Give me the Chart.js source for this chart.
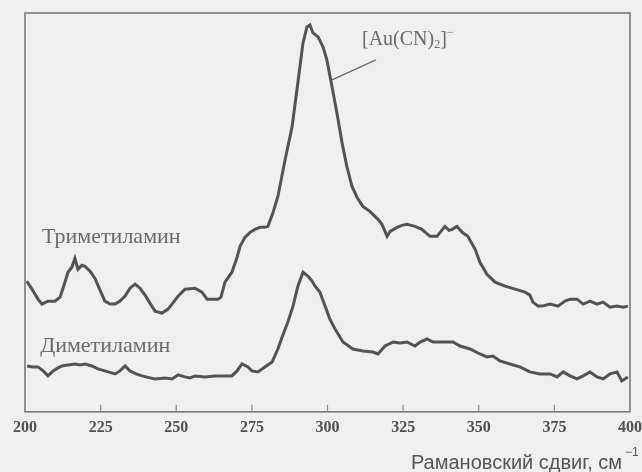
<!DOCTYPE html>
<html>
<head>
<meta charset="utf-8">
<style>
  html, body { margin: 0; padding: 0; background: #efefef; }
  #wrap { width: 642px; height: 472px; position: relative; }
</style>
<script src="https://cdn.jsdelivr.net/npm/chart.js@4.4.1/dist/chart.umd.min.js"></script>
</head>
<body>
<div id="wrap"><canvas id="c" width="642" height="472"></canvas></div>
<script>
// Raman shift axis (cm^-1)
const xMin = 200, xMax = 400, xStep = 25;

// Trimethylamine spectrum: Raman shift and relative intensity
const shiftTri = [200.6, 202.3, 204.3, 205.6, 207.6, 209.9, 211.6, 213.2, 214.2, 215.5, 216.5, 217.5, 218.8, 219.8, 221.5, 223.1, 224.8, 226.4, 228.1, 229.8, 231.4, 233.1, 234.7, 236.4, 238.0, 239.7, 241.3, 243.0, 245.3, 247.3, 248.6, 250.6, 252.9, 256.2, 258.5, 260.2, 261.8, 263.8, 264.8, 266.1, 268.4, 270.1, 271.1, 272.7, 274.4, 276.0, 277.7, 279.3, 280.3, 282.0, 283.6, 286.0, 288.3, 290.2, 291.9, 293.2, 294.2, 295.2, 296.9, 298.5, 299.8, 301.5, 303.1, 304.8, 306.4, 308.1, 309.8, 311.7, 314.0, 315.0, 316.7, 318.0, 319.7, 320.7, 323.0, 324.6, 326.3, 328.9, 331.2, 333.9, 336.2, 338.8, 340.2, 341.2, 342.8, 344.5, 346.4, 348.8, 350.4, 352.7, 355.4, 358.7, 362.0, 365.3, 366.9, 367.9, 369.6, 370.9, 373.6, 376.2, 378.5, 380.2, 382.5, 384.5, 386.8, 389.1, 391.1, 393.4, 395.7, 397.7, 399.3];
const intTri = [32.75, 30.75, 28.25, 27.0, 27.75, 27.75, 28.75, 32.5, 35.0, 36.25, 38.5, 35.75, 36.75, 36.5, 35.25, 33.5, 30.5, 27.75, 27.0, 27.0, 27.75, 29.0, 31.0, 32.0, 31.0, 29.25, 27.25, 25.25, 24.75, 25.75, 27.0, 29.0, 30.75, 31.0, 30.0, 28.25, 28.25, 28.25, 28.75, 32.5, 35.0, 38.75, 41.5, 43.75, 45.0, 45.75, 46.25, 46.25, 46.5, 50.0, 54.0, 63.25, 71.5, 82.5, 92.5, 96.5, 97.0, 95.0, 94.0, 91.5, 88.25, 81.5, 75.0, 67.5, 61.5, 56.5, 53.75, 51.5, 50.25, 49.5, 48.25, 47.0, 44.0, 45.25, 46.25, 46.75, 47.0, 46.5, 45.75, 44.0, 44.0, 46.5, 45.5, 45.75, 46.5, 45.0, 44.0, 40.75, 37.5, 34.5, 32.5, 31.5, 30.75, 30.0, 29.25, 27.5, 26.5, 26.5, 27.0, 26.5, 27.75, 28.25, 28.25, 27.0, 27.75, 27.0, 27.5, 26.25, 26.5, 26.25, 26.5];

// Dimethylamine spectrum: Raman shift and relative intensity
const shiftDi = [200.7, 202.6, 204.3, 206.0, 207.6, 209.3, 210.9, 212.2, 214.2, 216.5, 218.2, 219.8, 222.1, 224.1, 226.4, 229.8, 231.4, 233.1, 234.7, 236.7, 238.7, 241.3, 243.0, 246.3, 248.6, 250.6, 252.9, 254.5, 256.2, 259.5, 262.8, 266.1, 268.4, 270.1, 271.7, 273.7, 275.0, 277.0, 279.3, 281.7, 283.6, 285.0, 286.9, 288.6, 290.2, 291.9, 293.6, 294.9, 295.9, 297.5, 299.2, 300.8, 302.5, 305.1, 308.4, 311.7, 315.0, 316.7, 319.0, 321.7, 324.0, 326.3, 328.9, 330.6, 332.9, 334.9, 337.2, 341.5, 343.8, 347.1, 350.4, 352.7, 354.7, 357.0, 360.3, 363.6, 366.9, 370.2, 373.6, 375.9, 377.9, 380.2, 382.5, 384.5, 386.8, 389.1, 391.1, 393.4, 395.7, 397.3, 399.3];
const intDi = [11.5, 11.25, 11.25, 10.25, 9.0, 10.25, 11.0, 11.5, 11.75, 12.0, 11.75, 12.0, 11.5, 10.75, 10.25, 9.5, 10.25, 11.5, 10.25, 9.5, 9.0, 8.5, 8.25, 8.5, 8.25, 9.25, 8.75, 8.5, 9.0, 8.75, 9.0, 9.0, 9.0, 10.25, 12.0, 11.25, 10.25, 10.0, 11.25, 12.5, 15.75, 18.75, 22.5, 26.5, 31.5, 35.0, 34.0, 32.75, 31.5, 30.0, 26.5, 23.25, 20.75, 17.5, 15.75, 15.25, 15.0, 14.5, 16.5, 17.5, 17.25, 17.5, 16.5, 17.5, 18.25, 17.5, 17.5, 17.5, 16.5, 15.75, 14.5, 13.75, 14.0, 12.75, 12.0, 11.25, 10.0, 9.5, 9.5, 8.75, 10.0, 9.0, 8.25, 9.0, 10.0, 8.75, 8.25, 9.5, 10.0, 7.75, 8.75];

// Curve labels (anchor: left edge, vertical centre, in data units)
const labelTri = { text: 'Триметиламин', x: 205.6, y: 43.75 };
const labelDi = { text: 'Диметиламин', x: 205.0, y: 16.5 };
// Peak callout: leader line from the curve to the ion label
const peakLeader = { x1: 301.5, y1: 83.25, x2: 316.0, y2: 88.25 };
const peakLabel = { x: 311.4, y: 93.25 };

const axisTitle = 'Рамановский сдвиг, см';

const ink = '#535353';
const toPoints = (xs, ys) => xs.map((x, i) => ({ x, y: ys[i] }));

const decor = {
  id: 'decor',
  afterDraw(chart) {
    const { ctx, chartArea: a, scales: { x, y } } = chart;
    ctx.save();
    // frame
    ctx.strokeStyle = '#7a7a7a';
    ctx.lineWidth = 1.6;
    ctx.strokeRect(a.left, a.top, a.right - a.left, a.bottom - a.top);
    // inward ticks on the bottom axis
    ctx.strokeStyle = '#8a8a8a';
    ctx.lineWidth = 1.2;
    x.ticks.forEach(t => {
      if (t.value === xMin || t.value === xMax) return;
      const px = x.getPixelForValue(t.value);
      ctx.beginPath();
      ctx.moveTo(px, a.bottom);
      ctx.lineTo(px, a.bottom - 7);
      ctx.stroke();
    });
    // curve labels
    ctx.fillStyle = '#6a6a6a';
    ctx.font = '22px "Liberation Serif", serif';
    ctx.textBaseline = 'middle';
    ctx.textAlign = 'left';
    [labelTri, labelDi].forEach(l => {
      ctx.fillText(l.text, x.getPixelForValue(l.x), y.getPixelForValue(l.y));
    });
    // leader line
    ctx.strokeStyle = '#6a6a6a';
    ctx.lineWidth = 1.3;
    ctx.beginPath();
    ctx.moveTo(x.getPixelForValue(peakLeader.x1), y.getPixelForValue(peakLeader.y1));
    ctx.lineTo(x.getPixelForValue(peakLeader.x2), y.getPixelForValue(peakLeader.y2));
    ctx.stroke();
    // [Au(CN)2]- label with sub/superscripts
    let px = x.getPixelForValue(peakLabel.x);
    const py = y.getPixelForValue(peakLabel.y);
    const parts = [
      { t: '[Au(CN)', f: '20px', dy: 0 },
      { t: '2', f: '12px', dy: 5 },
      { t: ']', f: '20px', dy: 0 },
      { t: '−', f: '12px', dy: -7 }
    ];
    parts.forEach(p => {
      ctx.font = p.f + ' "Liberation Serif", serif';
      ctx.fillText(p.t, px, py + p.dy);
      px += ctx.measureText(p.t).width;
    });
    // axis title with superscript
    ctx.fillStyle = '#555';
    ctx.font = '20px "Liberation Sans", Arial, sans-serif';
    ctx.textBaseline = 'alphabetic';
    ctx.textAlign = 'right';
    ctx.fillText(axisTitle, 622, 469);
    ctx.font = '12px "Liberation Sans", Arial, sans-serif';
    ctx.textAlign = 'left';
    ctx.fillText('−1', 625, 456);
    ctx.restore();
  }
};

new Chart(document.getElementById('c'), {
  type: 'scatter',
  data: {
    datasets: [
      { label: 'Триметиламин', data: toPoints(shiftTri, intTri), showLine: true,
        borderColor: ink, borderWidth: 3, pointRadius: 0, tension: 0 },
      { label: 'Диметиламин', data: toPoints(shiftDi, intDi), showLine: true,
        borderColor: ink, borderWidth: 3, pointRadius: 0, tension: 0 }
    ]
  },
  options: {
    responsive: false,
    animation: false,
    events: [],
    layout: { padding: { left: 25, top: 13, right: 12, bottom: 29 } },
    plugins: { legend: { display: false }, tooltip: { enabled: false } },
    scales: {
      x: {
        type: 'linear', min: xMin, max: xMax,
        border: { display: false },
        grid: { display: false, drawTicks: false },
        ticks: {
          stepSize: xStep, padding: 6, color: '#505050',
          font: { family: '"Liberation Serif", serif', size: 16, weight: 'bold' }
        },
        // let the last tick label run to the canvas edge
        afterFit(scale) { scale.paddingRight = 0; scale.paddingLeft = 0; }
      },
      y: { display: false, min: 0, max: 100 }
    }
  },
  plugins: [decor]
});
</script>
</body>
</html>
